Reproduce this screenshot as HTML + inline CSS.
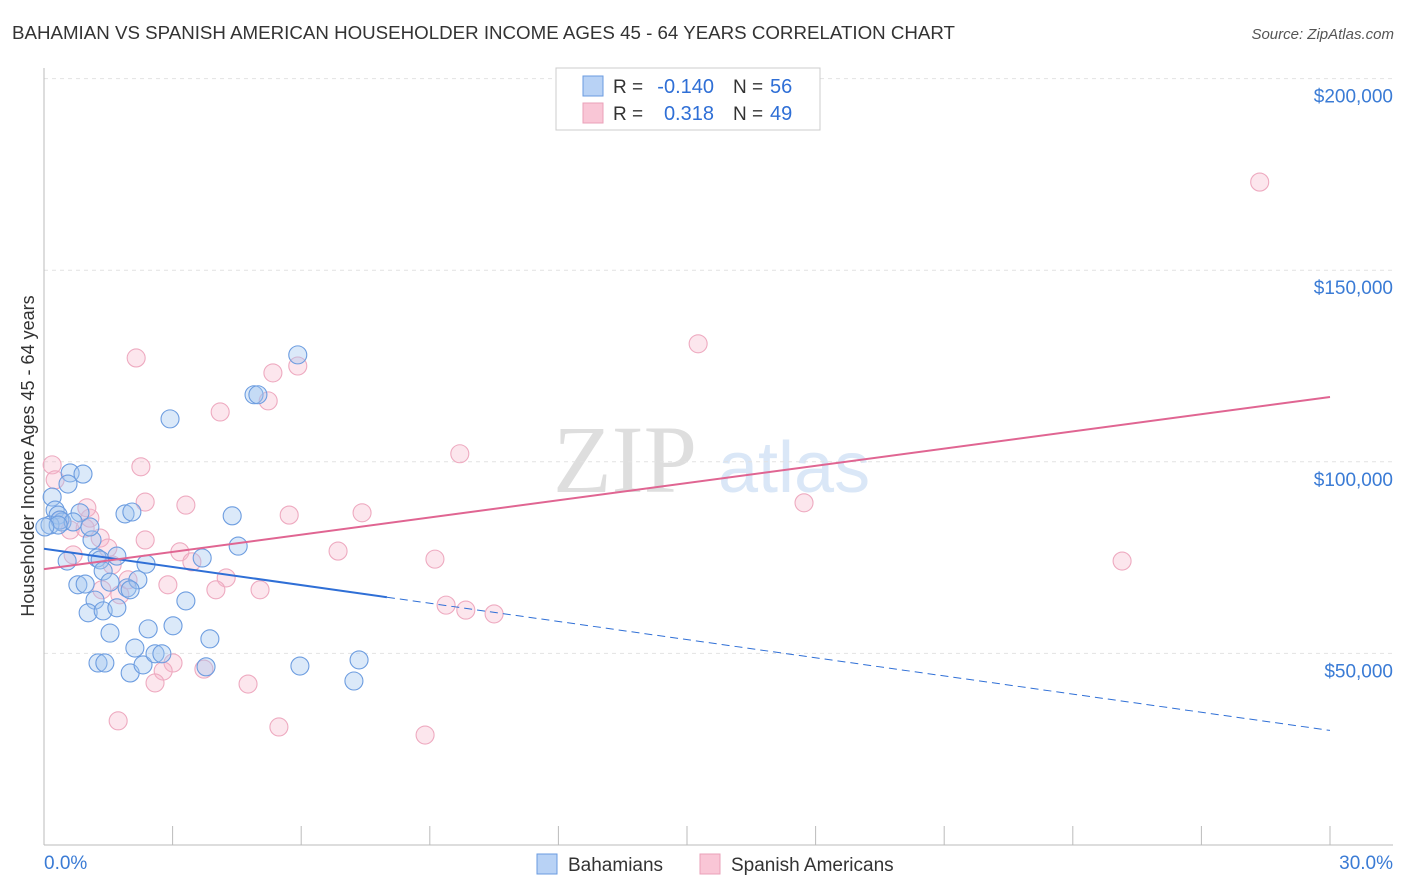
<!DOCTYPE html>
<html><head><meta charset="utf-8"><style>
body{margin:0;background:#fff;font-family:"Liberation Sans",sans-serif}
svg{display:block}
</style></head><body>
<svg id="c" width="1406" height="892">
<text x="12" y="39" font-size="18" fill="#333" textLength="943" lengthAdjust="spacingAndGlyphs">BAHAMIAN VS SPANISH AMERICAN HOUSEHOLDER INCOME AGES 45 - 64 YEARS CORRELATION CHART</text>
<text x="1394" y="39" font-size="15" fill="#555" font-style="italic" text-anchor="end">Source: ZipAtlas.com</text>
<text transform="translate(34,456) rotate(-90)" font-size="18" fill="#333" text-anchor="middle">Householder Income Ages 45 - 64 years</text>
<g>
<text x="553" y="492" font-size="96" font-family="Liberation Serif,serif" fill="#dedede">ZIP</text>
<text x="718" y="492" font-size="72" fill="#dae7f7">atlas</text>
</g>
<g id="grid"></g>
<g id="axes"></g>
<g id="pts"></g>
<g id="lines"></g>
<g>
<rect x="556" y="68" width="264" height="62" fill="#fff" stroke="#ccc"/>
<rect x="583" y="76" width="20" height="20" fill="#b8d2f5" stroke="#6a9be0"/>
<rect x="583" y="103" width="20" height="20" fill="#f9c6d6" stroke="#eaa0b8"/>
<text x="613" y="93" font-size="19" fill="#333">R =</text>
<text x="714" y="93" font-size="20" fill="#2f6fd6" text-anchor="end">-0.140</text>
<text x="733" y="93" font-size="19" fill="#333">N =</text>
<text x="770" y="93" font-size="20" fill="#2f6fd6">56</text>
<text x="613" y="120" font-size="19" fill="#333">R =</text>
<text x="714" y="120" font-size="20" fill="#2f6fd6" text-anchor="end">0.318</text>
<text x="733" y="120" font-size="19" fill="#333">N =</text>
<text x="770" y="120" font-size="20" fill="#2f6fd6">49</text>
</g>
<g>
<rect x="537" y="854" width="20" height="20" fill="#b8d2f5" stroke="#6a9be0"/>
<text x="568" y="871" font-size="19" fill="#333">Bahamians</text>
<rect x="700" y="854" width="20" height="20" fill="#f9c6d6" stroke="#eaa0b8"/>
<text x="731" y="871" font-size="19" fill="#333">Spanish Americans</text>
</g>
</svg>
<script>
const yTicks=[50000,100000,150000,200000];
const yTickLabels=["$50,000","$100,000","$150,000","$200,000"];
const xTickLabels=["0.0%","30.0%"];
const blueX=[0.19,0.26,0.33,0.42,0.14,0.37,0.61,0.91,0.56,0.84,0.68,1.12,1.24,0.79,0.96,0.54,1.31,1.38,1.54,1.19,1.03,1.38,1.70,1.94,2.19,1.70,2.38,1.89,2.05,1.54,2.12,2.01,1.26,1.42,2.31,2.43,2.59,2.75,3.01,3.31,3.69,3.87,3.78,2.94,4.39,4.53,4.90,4.99,5.92,5.97,7.35,7.23,0.33,0.02,1.07,2.01];
const blueY=[90.8,87.4,86.1,84.3,83.5,84.8,97.1,96.8,94.2,86.7,84.3,79.6,74.9,67.9,68.1,74.1,74.4,71.5,68.6,63.9,60.6,61.1,61.9,67.1,69.2,75.4,73.3,86.4,86.9,55.3,51.4,44.9,47.5,47.5,47.0,56.4,49.9,49.9,57.2,63.7,74.9,53.8,46.5,111.2,85.9,78.0,117.5,117.5,127.9,46.7,48.3,42.8,83.5,83.0,83.0,66.6];
const pinkX=[0.19,0.26,0.37,0.61,0.96,1.07,1.31,1.49,1.59,1.35,1.77,1.96,2.36,0.68,2.15,2.26,2.36,3.31,3.17,2.89,3.45,3.01,2.78,2.59,1.73,3.73,4.11,4.25,4.01,4.76,5.04,5.23,5.34,5.92,5.48,5.72,6.86,7.42,9.12,9.38,9.84,10.50,9.70,8.89,15.26,17.73,25.15,28.36,1.00];
const pinkY=[99.2,95.3,84.8,82.2,82.7,85.3,80.1,77.5,73.1,66.6,65.3,69.2,79.6,75.7,127.1,98.7,89.5,88.7,76.5,67.9,73.9,47.5,45.4,42.3,32.4,45.9,113.0,69.7,66.6,42.0,66.6,115.9,123.2,125.0,30.8,86.1,76.7,86.7,74.6,62.6,61.3,60.3,102.1,28.7,130.8,89.3,74.1,173.0,88.0];
const blueTrend=[77300,-1580];
const pinkTrend=[72000,1497];
const NS="http://www.w3.org/2000/svg";
function sx(p){return 44+p/30*1286;}
function sy(v){return 845-v/50000*191.6;}
function mk(tag,attrs,parent){const e=document.createElementNS(NS,tag);for(const k in attrs)e.setAttribute(k,attrs[k]);document.getElementById(parent).appendChild(e);return e;}
yTicks.forEach((t,i)=>{
 const l=mk('line',{x1:44,x2:1393,y1:sy(t),y2:sy(t),stroke:'#e2e2e2','stroke-dasharray':'4,4'},'grid');
 
 
 const tx=mk('text',{x:1393,y:sy(t)+24,'font-size':19,fill:'#3a7bd5','text-anchor':'end'},'grid');
 tx.textContent=yTickLabels[i];
 
 
});
mk('line',{x1:44,x2:44,y1:68,y2:845,stroke:'#bbb'},'axes');
const xa=mk('line',{x1:44,x2:1393,y1:845,y2:845,stroke:'#bbb'},'axes');


for(let i=1;i<=10;i++){mk('line',{x1:sx(i*3),x2:sx(i*3),y1:826,y2:845,stroke:'#bbb'},'axes');}
const t0=mk('text',{x:44,y:869,'font-size':19,fill:'#3a7bd5'},'axes');t0.textContent=xTickLabels[0];


const t1=mk('text',{x:1393,y:869,'font-size':19,fill:'#3a7bd5','text-anchor':'end'},'axes');t1.textContent=xTickLabels[1];


pinkX.forEach((x,i)=>{
 const c=mk('circle',{cx:sx(x),cy:sy(pinkY[i]*1000),r:9,fill:'rgba(246,178,200,0.33)',stroke:'#eeaac0','stroke-width':1.1},'pts');
 
 
});
blueX.forEach((x,i)=>{
 const c=mk('circle',{cx:sx(x),cy:sy(blueY[i]*1000),r:9,fill:'rgba(160,196,240,0.38)',stroke:'#6d9de0','stroke-width':1.1},'pts');
 
 
});
const bl=mk('line',{x1:sx(0),y1:sy(blueTrend[0]),x2:sx(8),y2:sy(blueTrend[0]+blueTrend[1]*8),stroke:'#2f6fd6','stroke-width':2},'lines');


const bd=mk('line',{x1:sx(8),y1:sy(blueTrend[0]+blueTrend[1]*8),x2:sx(30),y2:sy(blueTrend[0]+blueTrend[1]*30),stroke:'#2f6fd6','stroke-width':1,'stroke-dasharray':'8,5'},'lines');


const pl=mk('line',{x1:sx(0),y1:sy(pinkTrend[0]),x2:sx(30),y2:sy(pinkTrend[0]+pinkTrend[1]*30),stroke:'#e06592','stroke-width':2},'lines');


</script>
</body></html>
